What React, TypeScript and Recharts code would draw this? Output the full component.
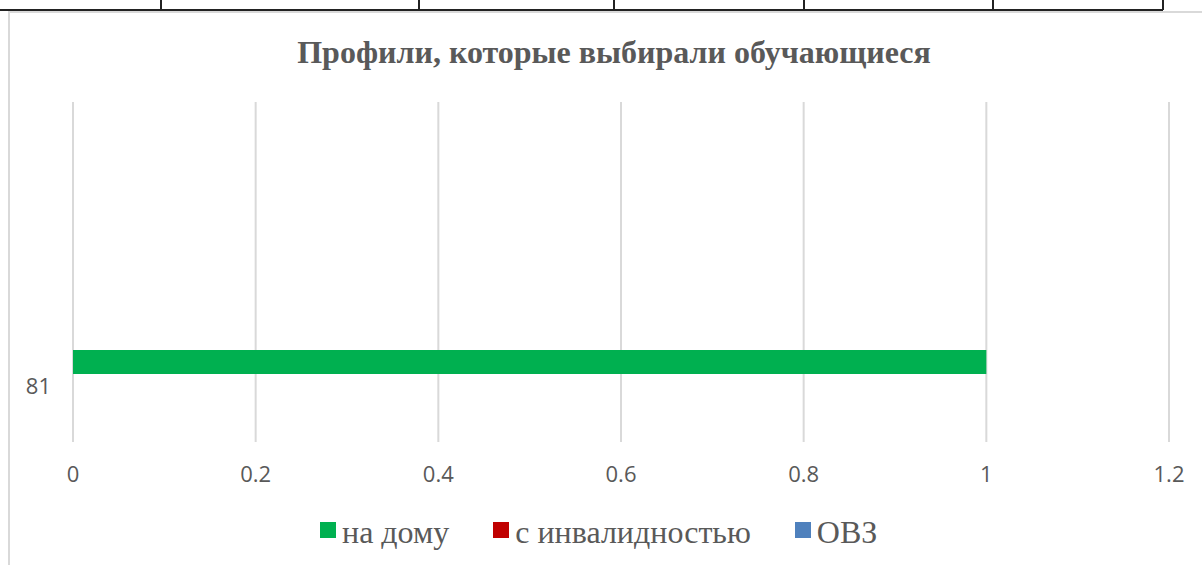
import { Bar, BarChart, CartesianGrid, XAxis, YAxis } from 'recharts';

// профиль -> число обучающихся
const categories = ['81'];
const naDomu = [1];
const sInvalidnostyu = [0];
const ovz = [0];
const xTicks = [0, 0.2, 0.4, 0.6, 0.8, 1, 1.2];

const seriesNames = ['на дому', 'с инвалидностью', 'ОВЗ'];
const seriesColors = ['#00B050', '#C00000', '#4F81BD'];

const tableCols = [160, 418, 613, 803, 992, 1162];

const data = categories.map((c, i) => ({
  profile: c,
  home: naDomu[i],
  disabled: sInvalidnostyu[i],
  ovz: ovz[i],
}));

const textGrey = '#595959';

// Excel puts the category label lower than the band middle
function CategoryTick(props: any) {
  const { x, y, payload } = props;
  return (
    <text
      x={x}
      y={y + 113}
      textAnchor="end"
      dominantBaseline="central"
      fill={textGrey}
      fontSize={22}
      fontFamily="'Open Sans', sans-serif"
    >
      {payload.value}
    </text>
  );
}

export default function App() {
  return (
    <div style={{ position: 'absolute', left: 0, top: 0, width: 1202, height: 565, background: '#fff', overflow: 'hidden' }}>
      {/* table row above the chart */}
      <div style={{ position: 'absolute', left: 0, top: 9, width: 1163, height: 2, background: '#222' }} />
      {tableCols.map((x) => (
        <div key={x} style={{ position: 'absolute', left: x, top: 0, width: 2, height: 10, background: '#222' }} />
      ))}
      {/* chart frame */}
      <div style={{ position: 'absolute', left: 8, top: 11, width: 1194, height: 554, borderLeft: '2px solid #d9d9d9', borderTop: '2px solid #d9d9d9', boxSizing: 'border-box' }} />

      <div
        style={{
          position: 'absolute',
          left: 17,
          width: 1194,
          top: 36,
          textAlign: 'center',
          fontFamily: "'Liberation Serif', serif",
          fontWeight: 'bold',
          fontSize: 32,
          lineHeight: 1,
          color: textGrey,
        }}
      >
        Профили, которые выбирали обучающиеся
      </div>

      <div style={{ position: 'absolute', left: 0, top: 0 }}>
        <BarChart
          width={1202}
          height={565}
          data={data}
          layout="vertical"
          margin={{ top: 102, right: 33, left: 0, bottom: 0 }}
          barSize={24}
          barGap={66}
        >
          <CartesianGrid horizontal={false} stroke="#d9d9d9" strokeWidth={2} />
          <XAxis
            type="number"
            domain={[0, 1.2]}
            ticks={xTicks}
            axisLine={false}
            tickLine={false}
            tickSize={0}
            tickMargin={24}
            height={123}
            tick={{ fill: textGrey, fontSize: 22, fontFamily: "'Open Sans', sans-serif" }}
          />
          <YAxis
            type="category"
            dataKey="profile"
            width={73}
            axisLine={false}
            tickLine={false}
            tickSize={0}
            tickMargin={22}
            tick={<CategoryTick />}
          />
          {/* Excel stacks the first series at the bottom of the group */}
          <Bar dataKey="ovz" fill={seriesColors[2]} isAnimationActive={false} />
          <Bar dataKey="disabled" fill={seriesColors[1]} isAnimationActive={false} />
          <Bar dataKey="home" fill={seriesColors[0]} isAnimationActive={false} />
        </BarChart>
      </div>

      <div
        style={{
          position: 'absolute',
          left: 320,
          top: 514,
          display: 'flex',
          alignItems: 'center',
          fontFamily: "'Liberation Serif', serif",
          fontSize: 32,
          lineHeight: '36px',
          color: textGrey,
        }}
      >
        {seriesNames.map((name, i) => (
          <div key={name} style={{ display: 'flex', alignItems: 'center', marginRight: 44 }}>
            <span style={{ display: 'inline-block', width: 16, height: 16, background: seriesColors[i], marginRight: 6, position: 'relative', top: -2 }} />
            <span>{name}</span>
          </div>
        ))}
      </div>
    </div>
  );
}
